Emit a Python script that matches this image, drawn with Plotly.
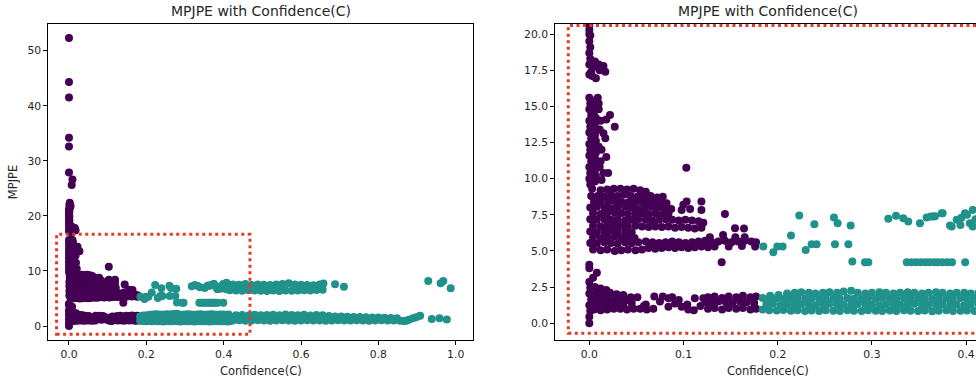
import plotly.graph_objects as go

# ---------------- tick labels ----------------
left_x_ticks = [0.0, 0.2, 0.4, 0.6, 0.8, 1.0]
left_x_labels = ["0.0", "0.2", "0.4", "0.6", "0.8", "1.0"]
left_y_ticks = [0, 10, 20, 30, 40, 50]
left_y_labels = ["0", "10", "20", "30", "40", "50"]
right_x_ticks = [0.0, 0.1, 0.2, 0.3, 0.4]
right_x_labels = ["0.0", "0.1", "0.2", "0.3", "0.4"]
right_y_ticks = [0.0, 2.5, 5.0, 7.5, 10.0, 12.5, 15.0, 17.5, 20.0]
right_y_labels = ["0.0", "2.5", "5.0", "7.5", "10.0", "12.5", "15.0", "17.5", "20.0"]

title_text = "MPJPE with Confidence(C)"
x_label = "Confidence(C)"
y_label = "MPJPE"

# ---------------- purple points (low confidence) ----------------
purple_outlier_x = [0.000, 0.000, 0.000, 0.000, 0.000, 0.000, 0.009, 0.007, 0.002, 0.001, 0.003, 0.000, 0.001, 0.004, 0.000]
purple_outlier_y = [52.3, 44.3, 41.5, 34.2, 32.6, 27.9, 26.6, 25.6, 22.4, 22.0, 21.6, 21.2, 20.9, 21.8, 20.6]

purple_top_x = [0.000, 0.001, 0.000, 0.001, 0.000, 0.001, 0.000, 0.006, 0.010, 0.015, 0.017, 0.000, 0.007, 0.003, 0.011, 0.004, 0.002, 0.000]
purple_top_y = [20.3, 19.9, 19.5, 19.1, 18.7, 18.3, 17.9, 18.1, 17.9, 17.8, 17.4, 17.2, 16.95, 17.1, 17.5, 17.7, 17.4, 20.0]

purple_column_x = [0.000, 0.001, 0.000, 0.002, 0.000, 0.001, 0.000, 0.002, 0.000, 0.001, 0.000, 0.002, 0.000, 0.001, 0.000, 0.001,
                   0.006, 0.007, 0.005, 0.007, 0.006, 0.008, 0.006, 0.007, 0.005, 0.007, 0.006, 0.008, 0.006, 0.007, 0.006,
                   0.009, 0.022, 0.018, 0.027, 0.015, 0.017, 0.011, 0.018, 0.020, 0.011, 0.010, 0.010, 0.103,
                   0.012, 0.013, 0.012, 0.013, 0.015, 0.010]
purple_column_y = [15.6, 15.2, 14.8, 14.4, 14.0, 13.6, 13.2, 12.8, 12.4, 12.0, 11.6, 11.2, 10.8, 10.4, 10.0, 9.6,
                   15.4, 15.0, 14.6, 14.2, 13.8, 13.4, 13.0, 12.6, 12.2, 11.8, 11.4, 11.0, 10.6, 10.2, 9.8,
                   15.6, 14.4, 14.1, 13.6, 13.15, 12.8, 13.4, 11.5, 10.4, 10.8, 14.8, 12.2, 10.75,
                   14.0, 12.0, 11.2, 9.9, 10.4, 15.2]

purple_blob_x = [
    0.003, 0.012, 0.019, 0.026, 0.033, 0.040, 0.047, 0.054, 0.060,
    0.002, 0.009, 0.016, 0.023, 0.030, 0.037, 0.044, 0.051, 0.058, 0.065, 0.072, 0.078,
    0.005, 0.012, 0.020, 0.027, 0.034, 0.041, 0.048, 0.055, 0.062, 0.069, 0.076, 0.082,
    0.001, 0.008, 0.016, 0.023, 0.030, 0.038, 0.045, 0.052, 0.059, 0.066, 0.073, 0.080, 0.087,
    0.004, 0.012, 0.019, 0.027, 0.034, 0.041, 0.049, 0.056, 0.063, 0.070, 0.077, 0.084,
    0.001, 0.008, 0.016, 0.023, 0.030, 0.038, 0.045, 0.052, 0.060, 0.067, 0.074, 0.081, 0.088, 0.095, 0.102, 0.109, 0.116, 0.121,
    0.004, 0.012, 0.019, 0.027, 0.034, 0.041, 0.049, 0.056, 0.063, 0.070, 0.077, 0.084, 0.091, 0.098, 0.105, 0.112, 0.119,
    0.001, 0.008, 0.016, 0.023, 0.030, 0.038, 0.045,
    0.004, 0.012, 0.019, 0.027, 0.034, 0.041, 0.048, 0.128, 0.142, 0.155, 0.165,
    0.001, 0.008, 0.016, 0.023, 0.030, 0.038, 0.045, 0.052, 0.060, 0.067, 0.074, 0.081, 0.088, 0.095, 0.102, 0.109, 0.116, 0.123, 0.130, 0.137, 0.144, 0.151, 0.158, 0.165, 0.172, 0.177,
    0.004, 0.012, 0.019, 0.027, 0.034, 0.041, 0.049, 0.056, 0.063, 0.070, 0.077, 0.084, 0.091, 0.098, 0.105, 0.112, 0.119, 0.126, 0.133, 0.148, 0.162, 0.176,
]
purple_blob_y = [
    9.3, 9.2, 9.25, 9.3, 9.3, 9.25, 9.3, 9.2, 9.1,
    8.8, 8.8, 8.75, 8.85, 8.8, 8.9, 8.8, 8.75, 8.85, 8.8, 8.7, 8.75,
    8.4, 8.35, 8.4, 8.45, 8.4, 8.35, 8.4, 8.45, 8.4, 8.35, 8.4, 8.3,
    8.0, 8.05, 8.0, 7.95, 8.0, 8.05, 8.0, 7.95, 8.0, 8.05, 8.0, 7.95, 7.9,
    7.6, 7.55, 7.6, 7.65, 7.6, 7.55, 7.6, 7.6, 7.55, 7.6, 7.5, 7.55,
    7.2, 7.15, 7.2, 7.15, 7.2, 7.1, 7.15, 7.2, 7.15, 7.1, 7.15, 7.2, 7.15, 7.1, 7.15, 7.1, 7.05, 6.95,
    6.75, 6.7, 6.75, 6.8, 6.75, 6.7, 6.75, 6.7, 6.65, 6.7, 6.65, 6.7, 6.6, 6.65, 6.6, 6.55, 6.6,
    6.35, 6.3, 6.35, 6.4, 6.35, 6.3, 6.3,
    5.95, 5.9, 5.95, 6.0, 5.9, 5.95, 5.9, 5.95, 6.1, 5.95, 5.95,
    5.55, 5.5, 5.6, 5.55, 5.5, 5.6, 5.55, 5.6, 5.65, 5.6, 5.55, 5.6, 5.65, 5.6, 5.55, 5.6, 5.65, 5.7, 5.6, 5.65, 5.7, 5.6, 5.65, 5.7, 5.65, 5.6,
    5.1, 5.05, 5.1, 5.0, 5.05, 5.1, 5.05, 5.1, 5.2, 5.15, 5.2, 5.25, 5.2, 5.25, 5.2, 5.25, 5.3, 5.25, 5.3, 5.3, 5.35, 5.3,
]

purple_mid_x = [0.0998, 0.1033, 0.119, 0.119, 0.098, 0.107, 0.144, 0.1547, 0.1642, 0.1405]
purple_mid_y = [8.19, 8.42, 8.42, 7.84, 7.84, 7.9, 7.55, 6.57, 6.55, 4.22]

purple_low_x = [
    0.000, 0.000, 0.001, 0.000, 0.002, 0.000, 0.001, 0.000, 0.008, 0.004, 0.000, 0.000,
    0.006, 0.012, 0.018,
    0.008, 0.015, 0.022, 0.029, 0.036,
    0.005, 0.012, 0.019, 0.026, 0.033, 0.040, 0.051, 0.069, 0.078, 0.084, 0.112, 0.121,
    0.008, 0.015, 0.022, 0.029, 0.036, 0.045, 0.060, 0.091,
    0.005, 0.012, 0.019, 0.026, 0.033, 0.040, 0.047, 0.054, 0.061, 0.068, 0.084, 0.098, 0.111,
    0.126, 0.133, 0.141, 0.148, 0.156, 0.163, 0.171, 0.177,
    0.124, 0.130, 0.137, 0.145, 0.152, 0.160, 0.167, 0.175,
    0.126, 0.133, 0.141, 0.148, 0.156, 0.163, 0.171, 0.177,
    0.058, 0.075, 0.088, 0.095, 0.104, 0.118, 0.105, 0.044, 0.030,
]
purple_low_y = [
    0.0, 0.45, 0.85, 1.25, 1.65, 2.05, 2.45, 2.85, 3.5, 3.15, 3.8, 4.05,
    2.5, 2.4, 2.3,
    2.1, 2.05, 2.1, 2.0, 1.95,
    1.7, 1.75, 1.7, 1.65, 1.7, 1.6, 1.8, 1.85, 1.85, 1.72, 1.72, 1.72,
    1.3, 1.35, 1.3, 1.25, 1.3, 1.4, 1.3, 1.37,
    0.95, 0.9, 0.95, 1.0, 1.0, 0.95, 1.0, 1.0, 0.95, 1.0, 1.14, 1.14, 0.9,
    1.8, 1.85, 1.75, 1.85, 1.8, 1.9, 1.8, 1.85,
    1.45, 1.4, 1.5, 1.45, 1.4, 1.5, 1.45, 1.4,
    1.0, 1.05, 0.95, 1.05, 1.0, 1.05, 0.95, 1.0,
    1.2, 1.5, 1.8, 1.6, 1.3, 1.2, 0.95, 1.8, 1.85,
]

# ---------------- teal points (higher confidence) ----------------
teal_low_x = [
    0.184, 0.191, 0.199, 0.206, 0.214, 0.221, 0.229, 0.236, 0.244, 0.251, 0.259, 0.266, 0.274, 0.281, 0.289, 0.296,
    0.304, 0.311, 0.319, 0.326, 0.334, 0.341, 0.349, 0.356, 0.364, 0.371, 0.379, 0.386, 0.394, 0.401, 0.409, 0.416,
    0.188, 0.195, 0.203, 0.210, 0.218, 0.225, 0.233, 0.240, 0.248, 0.255, 0.263, 0.270, 0.278, 0.285, 0.293, 0.300,
    0.308, 0.315, 0.323, 0.330, 0.338, 0.345, 0.353, 0.360, 0.368, 0.375, 0.383, 0.390, 0.398, 0.405, 0.413,
    0.184, 0.191, 0.199, 0.206, 0.214, 0.221, 0.229, 0.236, 0.244, 0.251, 0.259, 0.266, 0.274, 0.281, 0.289, 0.296,
    0.304, 0.311, 0.319, 0.326, 0.334, 0.341, 0.349, 0.356, 0.364, 0.371, 0.379, 0.386, 0.394, 0.401, 0.409, 0.416,
    0.192, 0.201, 0.210, 0.218, 0.225, 0.233, 0.240, 0.248, 0.255, 0.263, 0.270, 0.278, 0.285, 0.293, 0.300,
    0.308, 0.315, 0.323, 0.330, 0.338, 0.345, 0.353, 0.360, 0.368, 0.375, 0.383, 0.390, 0.398, 0.405, 0.413,
    0.424, 0.440, 0.456, 0.472, 0.488, 0.504, 0.520, 0.536, 0.552, 0.568, 0.584, 0.600, 0.616, 0.632, 0.648,
    0.664, 0.680, 0.696, 0.712, 0.728, 0.744, 0.760, 0.776, 0.792, 0.808, 0.824, 0.840, 0.856, 0.866,
    0.432, 0.448, 0.464, 0.480, 0.496, 0.512, 0.528, 0.544, 0.560, 0.576, 0.592, 0.608, 0.624, 0.640,
    0.656, 0.672, 0.688, 0.704, 0.720, 0.736, 0.752, 0.768, 0.784, 0.800, 0.816, 0.832, 0.848,
]
teal_low_y = [
    0.95, 0.9, 0.88, 0.92, 0.86, 0.9, 0.85, 0.88, 0.84, 0.9, 0.87, 0.85, 0.89, 0.86, 0.84, 0.9,
    0.87, 0.85, 0.88, 0.84, 0.9, 0.86, 0.85, 0.88, 0.83, 0.87, 0.9, 0.85, 0.86, 0.88, 0.84, 0.87,
    1.3, 1.35, 1.25, 1.3, 1.28, 1.32, 1.3, 1.25, 1.3, 1.35, 1.3, 1.27, 1.3, 1.33, 1.28, 1.3,
    1.25, 1.3, 1.32, 1.28, 1.3, 1.35, 1.3, 1.26, 1.3, 1.32, 1.28, 1.3, 1.25, 1.3, 1.33,
    1.75, 1.7, 1.72, 1.68, 1.7, 1.75, 1.7, 1.72, 1.68, 1.7, 1.73, 1.7, 1.75, 1.7, 1.68, 1.72,
    1.7, 1.74, 1.7, 1.68, 1.72, 1.7, 1.75, 1.7, 1.68, 1.7, 1.72, 1.7, 1.74, 1.7, 1.68, 1.72,
    1.9, 1.95, 2.05, 2.1, 2.15, 2.1, 2.05, 2.1, 2.15, 2.1, 2.2, 2.25, 2.1, 2.05, 2.1,
    2.15, 2.1, 2.05, 2.1, 2.15, 2.1, 2.05, 2.1, 2.15, 2.1, 2.05, 2.1, 2.1, 2.05, 2.1,
    1.0, 1.05, 0.95, 1.0, 1.05, 1.0, 0.95, 1.0, 1.05, 1.0, 0.95, 1.0, 1.05, 1.0, 1.0,
    0.95, 1.0, 1.05, 1.0, 1.0, 1.05, 1.0, 0.95, 1.0, 1.05, 1.0, 1.0, 0.95, 0.9,
    1.95, 2.0, 1.9, 2.05, 1.95, 2.0, 2.05, 1.95, 2.1, 2.0, 1.95, 2.05, 1.9, 2.0,
    1.95, 1.8, 1.75, 1.75, 1.7, 1.65, 1.65, 1.6, 1.55, 1.55, 1.5, 1.45, 1.4,
]

teal_up_x = [
    0.416, 0.432, 0.448, 0.464, 0.480, 0.496, 0.512, 0.528, 0.544, 0.560, 0.576, 0.592, 0.608, 0.624, 0.640, 0.656,
    0.424, 0.440, 0.456, 0.472, 0.488, 0.504, 0.520, 0.536, 0.552, 0.568, 0.584, 0.600, 0.616, 0.632, 0.648, 0.658,
    0.3847, 0.390, 0.3988, 0.407, 0.404, 0.407, 0.394, 0.3624, 0.3741, 0.367, 0.395, 0.401, 0.410,
]
teal_up_y = [
    6.5, 6.45, 6.4, 6.5, 6.45, 6.4, 6.35, 6.45, 6.35, 6.45, 6.4, 6.45, 6.5, 6.45, 6.55, 6.6,
    7.55, 7.5, 7.65, 7.45, 7.55, 7.5, 7.45, 7.55, 7.65, 7.75, 7.55, 7.5, 7.45, 7.4, 7.55, 7.7,
    6.69, 7.15, 7.61, 7.84, 6.92, 6.69, 6.8, 7.38, 7.61, 7.4, 7.3, 7.5, 7.2,
]

teal_sparse_x = [0.1847, 0.1953, 0.1996, 0.2052, 0.2141, 0.2229, 0.2297, 0.2360, 0.2413, 0.2389, 0.2597, 0.2636,
                 0.2608, 0.2750, 0.2774, 0.3174, 0.3256, 0.3333, 0.3386, 0.3510, 0.3581, 0.3652, 0.3751, 0.3829]
teal_sparse_y = [5.31, 4.91, 5.31, 5.31, 6.07, 7.45, 5.07, 5.47, 5.47, 6.85, 7.31, 6.92,
                 5.47, 5.47, 6.76, 7.22, 7.43, 7.27, 7.04, 6.92, 7.31, 7.38, 7.61, 6.76]

teal_line_x = [0.2792, 0.2926, 0.2962, 0.337, 0.342, 0.347, 0.352, 0.357, 0.361, 0.366, 0.370, 0.375, 0.380, 0.385, 0.399]
teal_line_y = [4.27, 4.22, 4.22, 4.22, 4.22, 4.22, 4.22, 4.22, 4.22, 4.22, 4.22, 4.22, 4.22, 4.22, 4.22]

teal_outlier_x = [0.688, 0.711, 0.929, 0.961, 0.968, 0.987, 0.938, 0.958, 0.977, 0.908, 0.898, 0.889, 0.879, 0.872]
teal_outlier_y = [7.57, 7.14, 8.17, 7.75, 8.17, 6.84, 1.27, 1.4, 1.2, 1.88, 1.6, 1.4, 1.15, 0.95]

purple_groups = [(purple_outlier_x, purple_outlier_y), (purple_top_x, purple_top_y),
                 (purple_column_x, purple_column_y), (purple_blob_x, purple_blob_y),
                 (purple_mid_x, purple_mid_y), (purple_low_x, purple_low_y)]
teal_groups = [(teal_low_x, teal_low_y), (teal_up_x, teal_up_y), (teal_sparse_x, teal_sparse_y),
               (teal_line_x, teal_line_y), (teal_outlier_x, teal_outlier_y)]

for gx, gy in purple_groups + teal_groups:
    assert len(gx) == len(gy), (len(gx), len(gy))

purple_x = [v for gx, _ in purple_groups for v in gx]
purple_y = [v for _, gy in purple_groups for v in gy]
teal_x = [v for gx, _ in teal_groups for v in gx]
teal_y = [v for _, gy in teal_groups for v in gy]

PURPLE = "#440154"
TEAL = "#21918c"
RED = "#e23b26"
FONT = "DejaVu Sans"
TEXT = "#262626"

fig = go.Figure()
for xa, ya in (("x", "y"), ("x2", "y2")):
    fig.add_trace(go.Scatter(x=purple_x, y=purple_y, mode="markers", xaxis=xa, yaxis=ya,
                             marker=dict(color=PURPLE, size=8, line=dict(width=0)),
                             showlegend=False, hoverinfo="skip"))
    fig.add_trace(go.Scatter(x=teal_x, y=teal_y, mode="markers", xaxis=xa, yaxis=ya,
                             marker=dict(color=TEAL, size=8, line=dict(width=0)),
                             showlegend=False, hoverinfo="skip"))

axis_common = dict(showline=True, linecolor="black", linewidth=1, ticks="outside", ticklen=4,
                   tickwidth=1, tickcolor="black", showgrid=False, zeroline=False,
                   tickfont=dict(family=FONT, size=10.8, color=TEXT), fixedrange=True)

y_domain = [43 / 383, 359 / 383]
fig.update_layout(
    width=976, height=383,
    margin=dict(l=0, r=0, t=0, b=0),
    paper_bgcolor="white", plot_bgcolor="white",
    xaxis=dict(domain=[48.3 / 976, 473.3 / 976], range=[-0.0535, 1.0455], anchor="y", mirror=True,
               tickmode="array", tickvals=left_x_ticks, ticktext=left_x_labels, **axis_common),
    yaxis=dict(domain=y_domain, range=[-2.54, 54.85], anchor="x", mirror=True,
               tickmode="array", tickvals=left_y_ticks, ticktext=left_y_labels, **axis_common),
    xaxis2=dict(domain=[555.3 / 976, 1.0], range=[-0.0361, 0.4105], anchor="y2", mirror=True,
                tickmode="array", tickvals=right_x_ticks, ticktext=right_x_labels, **axis_common),
    yaxis2=dict(domain=y_domain, range=[-1.16, 20.7], anchor="x2", mirror=False,
                tickmode="array", tickvals=right_y_ticks, ticktext=right_y_labels, **axis_common),
)

left_cx = 260.8 / 976
right_cx = 767.7 / 976
annotations = []
for cx in (left_cx, right_cx):
    annotations.append(dict(text=title_text, x=cx, y=1 - 11.5 / 383, xref="paper", yref="paper",
                            xanchor="center", yanchor="middle", showarrow=False,
                            font=dict(family=FONT, size=14, color=TEXT)))
    annotations.append(dict(text=x_label, x=cx, y=1 - 370.7 / 383, xref="paper", yref="paper",
                            xanchor="center", yanchor="middle", showarrow=False,
                            font=dict(family=FONT, size=11.5, color=TEXT)))
annotations.append(dict(text=y_label, x=12.7 / 976, y=1 - 182.5 / 383, xref="paper", yref="paper",
                        xanchor="center", yanchor="middle", showarrow=False, textangle=-90,
                        font=dict(family=FONT, size=11.5, color=TEXT)))
fig.update_layout(annotations=annotations)

dot_line = dict(color=RED, width=3, dash="3px,3.5px")
fig.add_shape(type="rect", xref="x", yref="y", x0=-0.032, x1=0.468, y0=-1.5, y1=16.65,
              line=dot_line, layer="above")
fig.add_shape(type="rect", xref="x2", yref="y2", x0=-0.0223, x1=0.60, y0=-0.69, y1=20.6,
              line=dot_line, layer="above")

fig.write_html("out.html", config={"displayModeBar": False, "staticPlot": True},
               post_script="document.body.style.margin='0';document.body.style.overflow='hidden';")
